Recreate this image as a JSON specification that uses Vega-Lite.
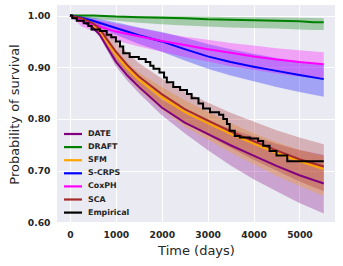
{
  "$schema": "https://vega.github.io/schema/vega-lite/v6.json",
  "width": 278,
  "height": 218,
  "autosize": {"type": "none"},
  "padding": {"left": 57, "top": 5, "right": 8, "bottom": 43},
  "background": "white",
  "config": {
    "view": {"fill": "#EAEAF2", "stroke": null},
    "axis": {
      "domain": false, "ticks": false, "grid": true, "gridColor": "#FFFFFF", "gridWidth": 1,
      "labelFont": "DejaVu Sans", "labelFontWeight": "bold", "labelFontSize": 9.2, "labelColor": "#262626",
      "titleFont": "DejaVu Sans", "titleFontWeight": "normal", "titleFontSize": 13, "titleColor": "#262626"
    },
    "legend": {
      "labelFont": "DejaVu Sans", "labelFontWeight": "bold", "labelFontSize": 7.9, "labelColor": "#262626"
    }
  },
  "datasets": {
    "bands": [
      {"m":"DATE","t":0,"s":1.0,"lo":1.0,"hi":1.0},
      {"m":"DATE","t":250,"s":0.99,"lo":0.988,"hi":0.993},
      {"m":"DATE","t":500,"s":0.977,"lo":0.974,"hi":0.981},
      {"m":"DATE","t":650,"s":0.963,"lo":0.958,"hi":0.968},
      {"m":"DATE","t":800,"s":0.94,"lo":0.934,"hi":0.947},
      {"m":"DATE","t":1000,"s":0.911,"lo":0.902,"hi":0.92},
      {"m":"DATE","t":1250,"s":0.884,"lo":0.874,"hi":0.895},
      {"m":"DATE","t":1500,"s":0.862,"lo":0.85,"hi":0.874},
      {"m":"DATE","t":2000,"s":0.822,"lo":0.807,"hi":0.837},
      {"m":"DATE","t":2500,"s":0.793,"lo":0.772,"hi":0.814},
      {"m":"DATE","t":3000,"s":0.771,"lo":0.74,"hi":0.797},
      {"m":"DATE","t":3500,"s":0.749,"lo":0.71,"hi":0.781},
      {"m":"DATE","t":4000,"s":0.729,"lo":0.683,"hi":0.766},
      {"m":"DATE","t":4500,"s":0.709,"lo":0.66,"hi":0.752},
      {"m":"DATE","t":5000,"s":0.691,"lo":0.637,"hi":0.74},
      {"m":"DATE","t":5530,"s":0.675,"lo":0.617,"hi":0.73},
      {"m":"DRAFT","t":0,"s":1.0,"lo":1.0,"hi":1.0},
      {"m":"DRAFT","t":500,"s":1.0,"lo":0.994,"hi":1.0},
      {"m":"DRAFT","t":1000,"s":0.998,"lo":0.99,"hi":0.9995},
      {"m":"DRAFT","t":1500,"s":0.997,"lo":0.986,"hi":0.999},
      {"m":"DRAFT","t":2000,"s":0.996,"lo":0.983,"hi":0.999},
      {"m":"DRAFT","t":2500,"s":0.995,"lo":0.981,"hi":0.9985},
      {"m":"DRAFT","t":3000,"s":0.993,"lo":0.979,"hi":0.998},
      {"m":"DRAFT","t":3500,"s":0.992,"lo":0.977,"hi":0.9975},
      {"m":"DRAFT","t":4000,"s":0.991,"lo":0.976,"hi":0.997},
      {"m":"DRAFT","t":4500,"s":0.99,"lo":0.975,"hi":0.9965},
      {"m":"DRAFT","t":5000,"s":0.989,"lo":0.973,"hi":0.996},
      {"m":"DRAFT","t":5300,"s":0.987,"lo":0.972,"hi":0.9955},
      {"m":"DRAFT","t":5530,"s":0.987,"lo":0.972,"hi":0.995},
      {"m":"SFM","t":0,"s":1.0,"lo":1.0,"hi":1.0},
      {"m":"SFM","t":250,"s":0.993,"lo":0.99,"hi":0.995},
      {"m":"SFM","t":500,"s":0.982,"lo":0.977,"hi":0.986},
      {"m":"SFM","t":650,"s":0.97,"lo":0.962,"hi":0.976},
      {"m":"SFM","t":800,"s":0.95,"lo":0.94,"hi":0.958},
      {"m":"SFM","t":1000,"s":0.925,"lo":0.912,"hi":0.935},
      {"m":"SFM","t":1250,"s":0.898,"lo":0.882,"hi":0.91},
      {"m":"SFM","t":1500,"s":0.876,"lo":0.857,"hi":0.89},
      {"m":"SFM","t":2000,"s":0.842,"lo":0.818,"hi":0.862},
      {"m":"SFM","t":2500,"s":0.813,"lo":0.785,"hi":0.836},
      {"m":"SFM","t":3000,"s":0.792,"lo":0.76,"hi":0.814},
      {"m":"SFM","t":3500,"s":0.771,"lo":0.735,"hi":0.792},
      {"m":"SFM","t":4000,"s":0.752,"lo":0.712,"hi":0.772},
      {"m":"SFM","t":4500,"s":0.734,"lo":0.69,"hi":0.755},
      {"m":"SFM","t":5000,"s":0.718,"lo":0.67,"hi":0.74},
      {"m":"SFM","t":5530,"s":0.703,"lo":0.651,"hi":0.728},
      {"m":"S-CRPS","t":0,"s":1.0,"lo":1.0,"hi":1.0},
      {"m":"S-CRPS","t":250,"s":0.996,"lo":0.992,"hi":0.999},
      {"m":"S-CRPS","t":500,"s":0.99,"lo":0.983,"hi":0.996},
      {"m":"S-CRPS","t":1000,"s":0.976,"lo":0.963,"hi":0.987},
      {"m":"S-CRPS","t":1500,"s":0.962,"lo":0.945,"hi":0.977},
      {"m":"S-CRPS","t":2000,"s":0.95,"lo":0.93,"hi":0.968},
      {"m":"S-CRPS","t":2500,"s":0.935,"lo":0.913,"hi":0.957},
      {"m":"S-CRPS","t":3000,"s":0.921,"lo":0.897,"hi":0.945},
      {"m":"S-CRPS","t":3500,"s":0.91,"lo":0.884,"hi":0.935},
      {"m":"S-CRPS","t":4000,"s":0.901,"lo":0.873,"hi":0.926},
      {"m":"S-CRPS","t":4500,"s":0.893,"lo":0.862,"hi":0.918},
      {"m":"S-CRPS","t":5000,"s":0.885,"lo":0.852,"hi":0.911},
      {"m":"S-CRPS","t":5530,"s":0.877,"lo":0.843,"hi":0.905},
      {"m":"CoxPH","t":0,"s":1.0,"lo":1.0,"hi":1.0},
      {"m":"CoxPH","t":250,"s":0.99,"lo":0.979,"hi":0.997},
      {"m":"CoxPH","t":500,"s":0.983,"lo":0.97,"hi":0.993},
      {"m":"CoxPH","t":1000,"s":0.969,"lo":0.952,"hi":0.984},
      {"m":"CoxPH","t":1500,"s":0.96,"lo":0.94,"hi":0.976},
      {"m":"CoxPH","t":2000,"s":0.951,"lo":0.93,"hi":0.967},
      {"m":"CoxPH","t":2500,"s":0.943,"lo":0.92,"hi":0.959},
      {"m":"CoxPH","t":3000,"s":0.935,"lo":0.911,"hi":0.953},
      {"m":"CoxPH","t":3500,"s":0.928,"lo":0.902,"hi":0.947},
      {"m":"CoxPH","t":4000,"s":0.921,"lo":0.895,"hi":0.942},
      {"m":"CoxPH","t":4500,"s":0.915,"lo":0.888,"hi":0.937},
      {"m":"CoxPH","t":5000,"s":0.91,"lo":0.882,"hi":0.933},
      {"m":"CoxPH","t":5530,"s":0.906,"lo":0.877,"hi":0.929},
      {"m":"SCA","t":0,"s":1.0,"lo":1.0,"hi":1.0},
      {"m":"SCA","t":250,"s":0.995,"lo":0.992,"hi":0.998},
      {"m":"SCA","t":500,"s":0.985,"lo":0.978,"hi":0.992},
      {"m":"SCA","t":650,"s":0.974,"lo":0.964,"hi":0.984},
      {"m":"SCA","t":800,"s":0.955,"lo":0.942,"hi":0.97},
      {"m":"SCA","t":1000,"s":0.93,"lo":0.914,"hi":0.95},
      {"m":"SCA","t":1250,"s":0.904,"lo":0.886,"hi":0.928},
      {"m":"SCA","t":1500,"s":0.882,"lo":0.862,"hi":0.908},
      {"m":"SCA","t":2000,"s":0.848,"lo":0.825,"hi":0.878},
      {"m":"SCA","t":2500,"s":0.819,"lo":0.793,"hi":0.853},
      {"m":"SCA","t":3000,"s":0.797,"lo":0.768,"hi":0.832},
      {"m":"SCA","t":3500,"s":0.776,"lo":0.744,"hi":0.812},
      {"m":"SCA","t":4000,"s":0.757,"lo":0.721,"hi":0.795},
      {"m":"SCA","t":4500,"s":0.739,"lo":0.7,"hi":0.778},
      {"m":"SCA","t":5000,"s":0.722,"lo":0.679,"hi":0.764},
      {"m":"SCA","t":5530,"s":0.708,"lo":0.66,"hi":0.751}
    ],
    "emp": [
      {"m":"Empirical","t":0,"s":1.0},
      {"m":"Empirical","t":50,"s":0.995},
      {"m":"Empirical","t":150,"s":0.99},
      {"m":"Empirical","t":300,"s":0.985},
      {"m":"Empirical","t":400,"s":0.98},
      {"m":"Empirical","t":470,"s":0.973},
      {"m":"Empirical","t":650,"s":0.97},
      {"m":"Empirical","t":800,"s":0.963},
      {"m":"Empirical","t":900,"s":0.958},
      {"m":"Empirical","t":1000,"s":0.95},
      {"m":"Empirical","t":1090,"s":0.94},
      {"m":"Empirical","t":1160,"s":0.927},
      {"m":"Empirical","t":1300,"s":0.92},
      {"m":"Empirical","t":1500,"s":0.916},
      {"m":"Empirical","t":1650,"s":0.91},
      {"m":"Empirical","t":1750,"s":0.903},
      {"m":"Empirical","t":1820,"s":0.897},
      {"m":"Empirical","t":1950,"s":0.89},
      {"m":"Empirical","t":2050,"s":0.88},
      {"m":"Empirical","t":2110,"s":0.871},
      {"m":"Empirical","t":2250,"s":0.862},
      {"m":"Empirical","t":2400,"s":0.856},
      {"m":"Empirical","t":2550,"s":0.848},
      {"m":"Empirical","t":2650,"s":0.84},
      {"m":"Empirical","t":2800,"s":0.83},
      {"m":"Empirical","t":2900,"s":0.82},
      {"m":"Empirical","t":3050,"s":0.813},
      {"m":"Empirical","t":3250,"s":0.808},
      {"m":"Empirical","t":3340,"s":0.8},
      {"m":"Empirical","t":3420,"s":0.79},
      {"m":"Empirical","t":3480,"s":0.777},
      {"m":"Empirical","t":3590,"s":0.767},
      {"m":"Empirical","t":3700,"s":0.764},
      {"m":"Empirical","t":3920,"s":0.762},
      {"m":"Empirical","t":4100,"s":0.757},
      {"m":"Empirical","t":4210,"s":0.748},
      {"m":"Empirical","t":4350,"s":0.738},
      {"m":"Empirical","t":4500,"s":0.729},
      {"m":"Empirical","t":4735,"s":0.718},
      {"m":"Empirical","t":5530,"s":0.718}
    ]
  },
  "encoding": {
    "x": {
      "field": "t", "type": "quantitative",
      "scale": {"domain": [-283, 5775], "nice": false, "zero": false},
      "axis": {"values": [0, 1000, 2000, 3000, 4000, 5000], "format": "d", "labelPadding": 7, "title": "Time (days)", "titlePadding": 5}
    },
    "color": {
      "field": "m", "type": "nominal",
      "scale": {"domain": ["DATE", "DRAFT", "SFM", "S-CRPS", "CoxPH", "SCA", "Empirical"],
                "range": ["#800080", "#008000", "#FFA500", "#0000FF", "#FF00FF", "#A52A2A", "#000000"]},
      "legend": {
        "title": null, "orient": "none", "legendX": 10, "legendY": 123,
        "symbolType": "M-2,0L2,0", "symbolSize": 81, "symbolStrokeWidth": 2.2,
        "labelOffset": 9, "rowPadding": 2.1, "padding": 0
      }
    }
  },
  "layer": [
    {
      "data": {"name": "bands"},
      "mark": {"type": "area", "fillOpacity": 0.3},
      "encoding": {
        "y": {"field": "lo", "type": "quantitative"},
        "y2": {"field": "hi"}
      }
    },
    {
      "data": {"name": "bands"},
      "mark": {"type": "line", "strokeWidth": 2},
      "encoding": {
        "y": {
          "field": "s", "type": "quantitative",
          "scale": {"domain": [0.5985, 1.0205], "nice": false, "zero": false},
          "axis": {"values": [0.6, 0.65, 0.7, 0.75, 0.8, 0.85, 0.9, 0.95, 1.0], "format": ".2f", "labelPadding": 7, "title": "Probability of survival", "titlePadding": 6}
        }
      }
    },
    {
      "data": {"name": "emp"},
      "mark": {"type": "line", "strokeWidth": 2, "interpolate": "step-after"},
      "encoding": {
        "y": {"field": "s", "type": "quantitative"}
      }
    }
  ]
}
